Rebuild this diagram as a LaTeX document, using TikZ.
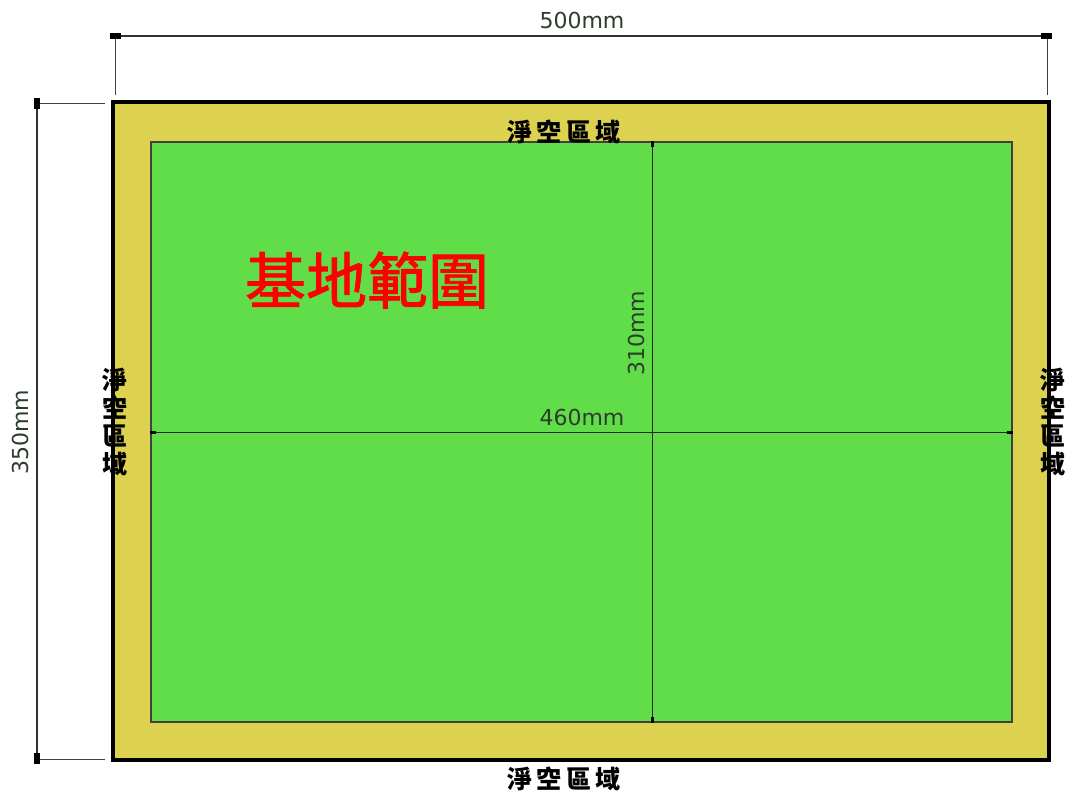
\documentclass[tikz,border=0pt]{standalone}
\usepackage{fontspec}
\setmainfont{Liberation Sans}
\newfontfamily\cjk{Noto Sans CJK TC}
\newfontfamily\cjkred[FakeBold=1.5]{Noto Sans CJK TC}
\newfontfamily\dimfont{DejaVu Sans}
\usetikzlibrary{calc}
\definecolor{zoneyellow}{RGB}{220,210,80}
\definecolor{sitegreen}{RGB}{98,221,74}
\definecolor{dimgray}{RGB}{45,60,45}
\begin{document}
\begin{tikzpicture}[x=1pt,y=-1pt,
  dimline/.style={draw=black!80, line width=1.1pt},
  extline/.style={draw=black!75, line width=1pt},
  tickmark/.style={fill=black},
  dimtext/.style={font=\dimfont\fontsize{22}{22}\selectfont, text=dimgray, inner sep=0pt},
  zonelabel/.style={font=\cjk\bfseries\fontsize{25}{28}\selectfont, inner sep=0pt, align=center},
  sitelabel/.style={font=\cjkred\fontsize{61}{61}\selectfont, text=red, inner sep=0pt}]
\useasboundingbox (0,0) rectangle (1072,796);
% outer zone
\path[fill=zoneyellow, draw=black, line width=3.5pt] (113,102) rectangle (1049,760);
% inner site
\path[fill=sitegreen, draw=black!75, line width=1.2pt] (151,142) rectangle (1012,722);
% coordinates
\coordinate (tl) at (115,36);
\coordinate (tr) at (1047,36);
\coordinate (tlx) at (115,95);
\coordinate (trx) at (1047,95);
\coordinate (lt) at (37,103);
\coordinate (lb) at (37,759);
\coordinate (ltx) at (105,103);
\coordinate (lbx) at (105,759);
\coordinate (vt) at (652,143);
\coordinate (vb) at (652,721);
\coordinate (hl) at (152,432);
\coordinate (hr) at (1011,432);
% top dimension
\draw[dimline] (tl) -- (tr);
\draw[extline] (tl) -- (tlx);
\draw[extline] (tr) -- (trx);
\fill[tickmark] ($(tl)+(-5,-3)$) rectangle ($(tl)+(6,3)$);
\fill[tickmark] ($(tr)+(-6,-3)$) rectangle ($(tr)+(5,3)$);
\node[dimtext] (d500) at (582,20) {500mm};
% left dimension
\draw[dimline] (lt) -- (lb);
\draw[extline] (lt) -- (ltx);
\draw[extline] (lb) -- (lbx);
\fill[tickmark] ($(lt)+(-3,-5)$) rectangle ($(lt)+(3,6)$);
\fill[tickmark] ($(lb)+(-3,-6)$) rectangle ($(lb)+(3,5)$);
\node[dimtext, rotate=90] (d350) at (20,432) {350mm};
% interior dimensions
\draw[draw=black!85, line width=1pt] (vt) -- (vb);
\draw[draw=black!85, line width=1pt] (hl) -- (hr);
\fill[tickmark] ($(vt)+(-1.5,-2)$) rectangle ($(vt)+(1.5,4)$);
\fill[tickmark] ($(vb)+(-1.5,-4)$) rectangle ($(vb)+(1.5,2)$);
\fill[tickmark] ($(hl)+(-2,-1.5)$) rectangle ($(hl)+(4,1.5)$);
\fill[tickmark] ($(hr)+(-4,-1.5)$) rectangle ($(hr)+(2,1.5)$);
\node[dimtext, rotate=90] (d310) at (636,333) {310mm};
\node[dimtext] (d460) at (582,417) {460mm};
% labels
\node[zonelabel] (ztop) at (564,132) {淨\,空\,區\,域};
\node[zonelabel] (zbot) at (564,779) {淨\,空\,區\,域};
\node[zonelabel] (zleft) at (115,422) {淨\\空\\區\\域};
\node[zonelabel] (zright) at (1053,422) {淨\\空\\區\\域};
\node[sitelabel] (site) at (367,280) {基地範圍};
\end{tikzpicture}
\end{document}
